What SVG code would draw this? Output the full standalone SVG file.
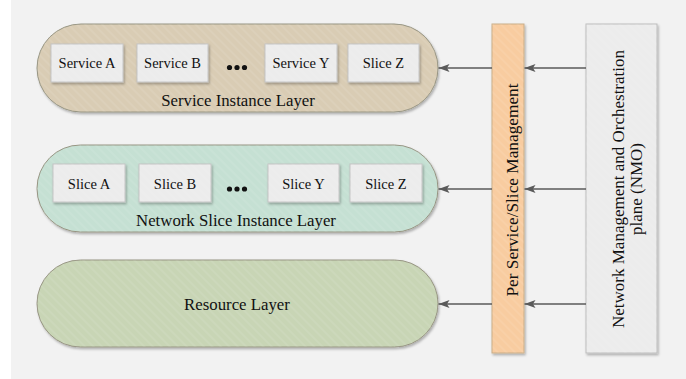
<svg xmlns="http://www.w3.org/2000/svg" width="686" height="379" viewBox="0 0 686 379">
<style>
text{font-family:"Liberation Serif","Times New Roman",serif;fill:#111}
.lbl{font-size:16.8px;text-anchor:middle}
.box{font-size:14.5px;text-anchor:middle}
.rot{font-size:17.3px;text-anchor:middle}
.rot2{font-size:17px;text-anchor:middle}
.pill{stroke:#979583;stroke-width:1}
.bx{fill:#ececec;stroke:#c4c4c4;stroke-width:1}
.hatch{fill:url(#h);stroke:none}
.conn line{stroke:#5a5a5a;stroke-width:1.3;marker-end:url(#ah)}
.dot{fill:#111}
</style>
<defs>
<pattern id="h" width="6" height="6" patternUnits="userSpaceOnUse" patternTransform="rotate(-45)">
<line x1="1" y1="0" x2="1" y2="6" stroke="#ffffff" stroke-opacity="0.11" stroke-width="1.3"/>
</pattern>
<filter id="sh" x="-10%" y="-10%" width="130%" height="140%">
<feDropShadow dx="1.2" dy="1.8" stdDeviation="1.3" flood-color="#000" flood-opacity="0.28"/>
</filter>
<marker id="ah" viewBox="0 0 12 10" refX="11" refY="5" markerWidth="12" markerHeight="10" markerUnits="userSpaceOnUse" orient="auto">
<path d="M11,5 L0,1 L2.5,5 L0,9 Z" fill="#5a5a5a"/>
</marker>
</defs>
<rect x="11" y="0" width="675" height="379" fill="#f2f2f2"/>

<g id="service-layer">
<rect class="pill" x="37" y="24" width="401" height="88" rx="44" fill="#d9ccb4" filter="url(#sh)"/>
<rect class="hatch" x="37" y="24" width="401" height="88" rx="44"/>
<text class="lbl" x="238" y="106">Service Instance Layer</text>
</g>
<g id="service-a"><rect class="bx" x="51" y="44" width="72" height="38" filter="url(#sh)"/><rect class="hatch" x="51" y="44" width="72" height="38"/><text class="box" x="87" y="68">Service A</text></g>
<g id="service-b"><rect class="bx" x="137" y="44" width="71" height="38" filter="url(#sh)"/><rect class="hatch" x="137" y="44" width="71" height="38"/><text class="box" x="172.5" y="68">Service B</text></g>
<g id="service-dots"><circle class="dot" cx="229.5" cy="67.5" r="2.6"/><circle class="dot" cx="237" cy="67.5" r="2.6"/><circle class="dot" cx="244.5" cy="67.5" r="2.6"/></g>
<g id="service-y"><rect class="bx" x="265" y="44" width="72" height="38" filter="url(#sh)"/><rect class="hatch" x="265" y="44" width="72" height="38"/><text class="box" x="301" y="68">Service Y</text></g>
<g id="service-slice-z"><rect class="bx" x="348" y="44" width="71" height="38" filter="url(#sh)"/><rect class="hatch" x="348" y="44" width="71" height="38"/><text class="box" x="383.5" y="68">Slice Z</text></g>

<g id="network-slice-layer">
<rect class="pill" x="37" y="145" width="401" height="87" rx="43.5" fill="#c5e0d3" filter="url(#sh)"/>
<rect class="hatch" x="37" y="145" width="401" height="87" rx="43.5"/>
<text class="lbl" x="236" y="226">Network Slice Instance Layer</text>
</g>
<g id="slice-a"><rect class="bx" x="53" y="164" width="72" height="38" filter="url(#sh)"/><rect class="hatch" x="53" y="164" width="72" height="38"/><text class="box" x="89" y="189">Slice A</text></g>
<g id="slice-b"><rect class="bx" x="139" y="164" width="72" height="38" filter="url(#sh)"/><rect class="hatch" x="139" y="164" width="72" height="38"/><text class="box" x="175" y="189">Slice B</text></g>
<g id="slice-dots"><circle class="dot" cx="229.5" cy="189" r="2.6"/><circle class="dot" cx="237" cy="189" r="2.6"/><circle class="dot" cx="244.5" cy="189" r="2.6"/></g>
<g id="slice-y"><rect class="bx" x="268" y="164" width="71" height="38" filter="url(#sh)"/><rect class="hatch" x="268" y="164" width="71" height="38"/><text class="box" x="303.5" y="189">Slice Y</text></g>
<g id="slice-z"><rect class="bx" x="350" y="164" width="72" height="38" filter="url(#sh)"/><rect class="hatch" x="350" y="164" width="72" height="38"/><text class="box" x="386" y="189">Slice Z</text></g>

<g id="resource-layer">
<rect class="pill" x="37" y="260" width="401" height="87" rx="43.5" fill="#c8d5b5" filter="url(#sh)"/>
<rect class="hatch" x="37" y="260" width="401" height="87" rx="43.5"/>
<text class="lbl" x="237" y="310">Resource Layer</text>
</g>

<g id="per-service-slice-management">
<rect x="492" y="24" width="32" height="329" fill="#f8cca0" stroke="#c9ad88" stroke-width="1" filter="url(#sh)"/>
<rect class="hatch" x="492" y="24" width="32" height="329"/>
<text class="rot" transform="translate(518,190) rotate(-90)">Per Service/Slice Management</text>
</g>

<g id="nmo">
<rect x="586" y="24" width="71" height="329" fill="#ececec" stroke="#bdbdbd" stroke-width="1" filter="url(#sh)"/>
<rect class="hatch" x="586" y="24" width="71" height="329"/>
<text class="rot2" transform="translate(624,189) rotate(-90)">Network Management and Orchestration</text>
<text class="rot2" transform="translate(642,189) rotate(-90)">plane (NMO)</text>
</g>

<g id="connectors" class="conn">
<line x1="586" y1="68" x2="524.5" y2="68"/>
<line x1="586" y1="189" x2="524.5" y2="189"/>
<line x1="586" y1="304" x2="524.5" y2="304"/>
<line x1="492" y1="68" x2="438.5" y2="68"/>
<line x1="492" y1="189" x2="438.5" y2="189"/>
<line x1="492" y1="304" x2="438.5" y2="304"/>
</g>
</svg>
